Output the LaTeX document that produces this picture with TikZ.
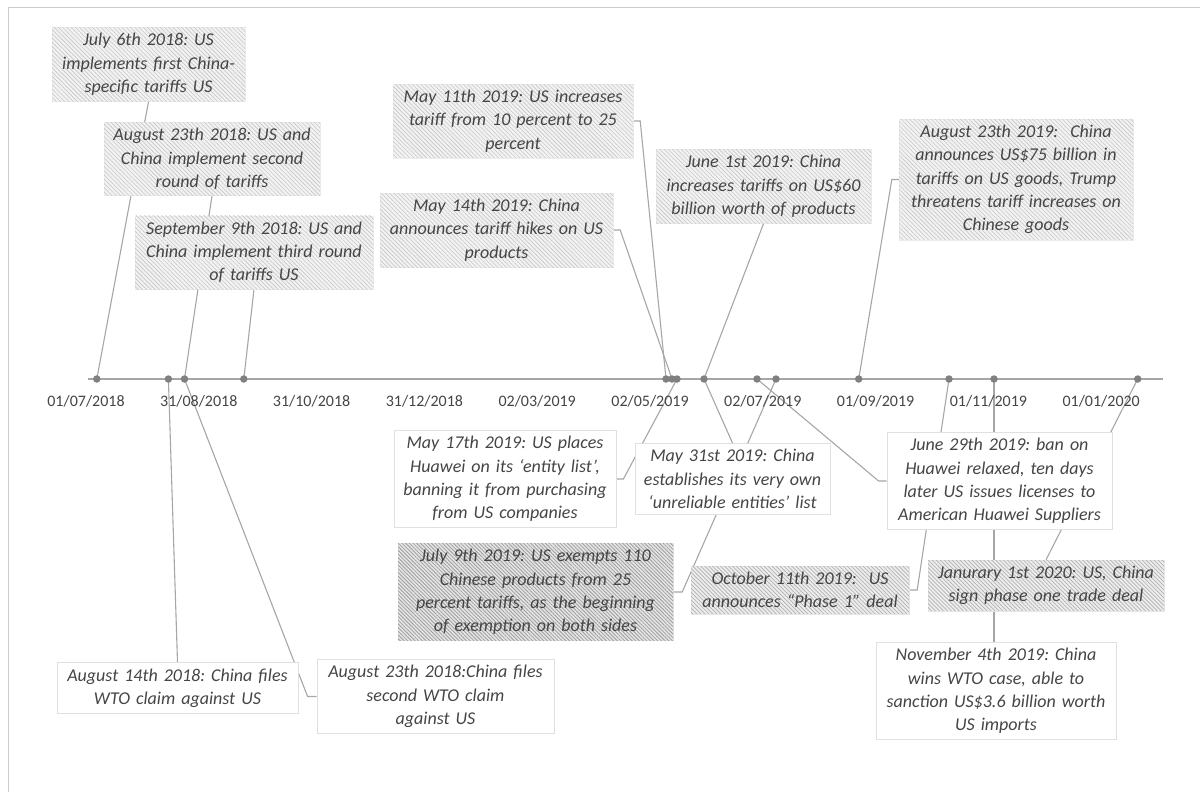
\documentclass[tikz,border=0pt]{standalone}
\usepackage{fontspec}
\setmainfont{Carlito}
\usetikzlibrary{patterns.meta}
\definecolor{txtgray}{HTML}{454545}
\definecolor{linegray}{HTML}{A6A6A6}
\definecolor{dotgray}{HTML}{808080}
\pgfdeclarelayer{back}
\pgfsetlayers{back,main}

\begin{document}
\frenchspacing
\begin{tikzpicture}[x=1pt, y=-1pt, % pixel grid, y pointing down
  event/.style={font=\itshape\fontsize{18}{23.3}\selectfont, text=txtgray,
                align=center, inner xsep=5pt, inner ysep=6pt},
  hatched/.style={event, fill=black!5, draw=black!8,
                  postaction={pattern={Lines[angle=-45,distance=3pt,line width=.6pt]},
                              pattern color=black!22}},
  midhatched/.style={event, fill=black!7, draw=black!10,
                     postaction={pattern={Lines[angle=-45,distance=2.8pt,line width=.7pt]},
                                 pattern color=black!30}},
  darkhatched/.style={event, fill=black!10, draw=black!12,
                      postaction={pattern={Lines[angle=-45,distance=2.6pt,line width=.8pt]},
                                  pattern color=black!38}},
  plainbox/.style={event, fill=white, draw=black!12, line width=.8pt},
  dot/.style={circle, fill=dotgray, inner sep=0pt, minimum size=7.5pt},
  link/.style={draw=linegray, line width=1.1pt},
  datelabel/.style={font=\fontsize{16}{18}\selectfont, text=txtgray}
]
  \useasboundingbox (0,0) rectangle (1200,792);
  \draw[black!20, line width=1pt] (1200,8) -- (8,8) -- (8,792);

  % the time axis
  \draw[linegray, line width=1.6pt] (88,379) -- (1163,379);
  \foreach \d [count=\i from 0] in {01/07/2018, 31/08/2018, 31/10/2018, 31/12/2018, 02/03/2019,
                                   02/05/2019, 02/07/2019, 01/09/2019, 01/11/2019, 01/01/2020}
    \node[datelabel] (tick\i) at ({86+112.8*\i},401) {\d};

  \node[dot] (d-jul6) at (96.8,379) {};
  \node[dot] (d-aug14) at (168.4,379) {};
  \node[dot] (d-aug23) at (184.5,379) {};
  \node[dot] (d-sep9) at (243.8,379) {};
  \node[dot] (d-may11) at (666,379) {};
  \node[dot] (d-may14) at (672,379) {};
  \node[dot] (d-may17) at (677,379) {};
  \node[dot] (d-may31) at (704,379) {};
  \node[dot] (d-jun29) at (757,379) {};
  \node[dot] (d-jul9) at (776,379) {};
  \node[dot] (d-aug23b) at (858.7,379) {};
  \node[dot] (d-oct11) at (949,379) {};
  \node[dot] (d-nov4) at (994,379) {};
  \node[dot] (d-jan1) at (1137.7,379) {};

  % above the axis
  \node[hatched, text width=183pt] (jul6) at (148.5,64.5)
    {July 6th 2018: US\\implements first China-\\specific tariffs US};
  \node[hatched, text width=206pt] (aug23us) at (212,159)
    {August 23th 2018: US and\\China implement second\\round of tariffs};
  \node[hatched, text width=228pt] (sep9) at (254,252.5)
    {September 9th 2018: US and\\China implement third round\\of tariffs US};
  \node[hatched, text width=230pt] (may11) at (513,121)
    {May 11th 2019: US increases\\tariff from 10 percent to 25\\percent};
  \node[hatched, text width=223pt] (may14) at (496.5,230)
    {May 14th 2019: China\\announces tariff hikes on US\\products};
  \node[hatched, text width=205pt] (jun1) at (763.5,186.5)
    {June 1st 2019: China\\increases tariffs on US\$60\\billion worth of products};
  \node[hatched, text width=224pt] (aug23cn19) at (1016,179.5)
    {August 23th 2019:~ China\\announces US\$75 billion in\\tariffs on US goods, Trump\\threatens tariff increases on\\Chinese goods};

  % below the axis
  \node[plainbox, text width=212pt] (may17) at (505,479)
    {May 17th 2019: US places\\Huawei on its ‘entity list’,\\banning it from purchasing\\from US companies};
  \node[plainbox, text width=185pt] (may31) at (732.5,479)
    {May 31st 2019: China\\establishes its very own\\‘unreliable entities’ list};
  \node[plainbox, text width=215pt] (jun29) at (999.5,481)
    {June 29th 2019: ban on\\Huawei relaxed, ten days\\later US issues licenses to\\American Huawei Suppliers};
  \node[darkhatched, text width=265pt] (jul9) at (535.5,592)
    {July 9th 2019: US exempts 110\\Chinese products from 25\\percent tariffs, as the beginning\\of exemption on both sides};
  \node[midhatched, text width=208pt] (oct11) at (800,590)
    {October 11th 2019:~ US\\announces “Phase 1” deal};
  \node[midhatched, text width=226pt] (jan1) at (1046,585.5)
    {Janurary 1st 2020: US, China\\sign phase one trade deal};
  \node[plainbox, text width=230pt] (nov4) at (996,691)
    {November 4th 2019: China\\wins WTO case, able to\\sanction US\$3.6 billion worth\\US imports};
  \node[plainbox, text width=231pt] (aug14) at (177.5,688)
    {August 14th 2018: China files\\WTO claim against US};
  \node[plainbox, text width=227pt] (aug23cn18) at (435.5,696.5)
    {August 23th 2018:China files\\second WTO claim\\against US};

  \begin{pgfonlayer}{back}
    \draw[link] (jul6.south) -- (d-jul6.center);
    \draw[link] (aug23us.south) -- (d-aug23.center);
    \draw[link] (sep9.south) -- (d-sep9.center);
    \draw[link] (may11.east) -- ++(7,0) -- (d-may11.center);
    \draw[link] (may14.east) -- ++(7,0) -- (d-may14.center);
    \draw[link] (jun1.south) -- (d-may31.center);
    \draw[link] (aug23cn19.west) -- ++(-7,0) -- (d-aug23b.center);
    \draw[link] (aug14.north) -- (d-aug14.center);
    \draw[link] (aug23cn18.west) -- ++(-9,0) -- (d-aug23.center);
    \draw[link] (may17.east) -- ++(7,0) -- (d-may17.center);
    \draw[link] (may31.north) -- (d-may31.center);
    \draw[link] (jul9.east) -- ++(9,0) -- (d-jul9.center);
    \draw[link] (jun29.west) -- ++(-8,0) -- (d-jun29.center);
    \draw[link] (oct11.east) -- ++(8,0) -- (d-oct11.center);
    \draw[link] (jan1.north) -- (d-jan1.center);
    \draw[link] (d-nov4.center) -- (d-nov4 |- nov4.north);
  \end{pgfonlayer}
\end{tikzpicture}
\end{document}
